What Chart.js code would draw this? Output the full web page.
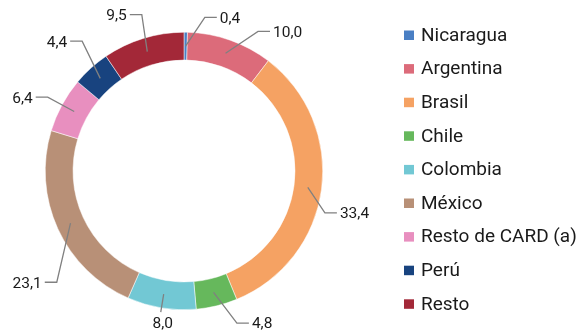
<!DOCTYPE html>
<html>
<head>
<meta charset="utf-8">
<script src="https://cdn.jsdelivr.net/npm/chart.js@4"></script>
<style>
  html, body { margin: 0; padding: 0; background: #fff; }
  #wrap { width: 576px; height: 336px; position: relative; }
</style>
</head>
<body>
<div id="wrap"><canvas id="chart" width="576" height="336"></canvas></div>
<script>
const countries = ['Nicaragua', 'Argentina', 'Brasil', 'Chile', 'Colombia', 'México', 'Resto de CARD (a)', 'Perú', 'Resto'];
const shares = [0.4, 10.0, 33.4, 4.8, 8.0, 23.1, 6.4, 4.4, 9.5];
const colors = ['#4a7fc4', '#dc6b7a', '#f5a263', '#66b85c', '#72c8d4', '#b89077', '#e88fbf', '#18437f', '#a32838'];

// leader line tweaks: [angle shift in degrees, elbow radius]
const leaderNudge = [[7, 155], [8.5, 158], [9, 147], [-5.5, 161], [0, 143], [-16.5, 169], [0, 155], [4, 165], [2, 162]];

const fmt = v => v.toFixed(1).replace('.', ',');

const labelsPlugin = {
  id: 'leaderLabels',
  afterDatasetsDraw(chart) {
    const ctx = chart.ctx;
    const arcs = chart.getDatasetMeta(0).data;
    ctx.save();
    ctx.strokeStyle = '#808080';
    ctx.lineWidth = 1.3;
    ctx.fillStyle = '#1a1a1a';
    ctx.font = '15.5px Roboto';
    arcs.forEach((arc, i) => {
      const p = arc.getProps(['x', 'y', 'startAngle', 'endAngle', 'innerRadius', 'outerRadius']);
      const mid = (p.startAngle + p.endAngle) / 2;
      const rMid = (p.innerRadius + p.outerRadius) / 2;
      const sx = p.x + Math.cos(mid) * rMid;
      const sy = p.y + Math.sin(mid) * rMid;
      const a = mid + leaderNudge[i][0] * Math.PI / 180;
      const ex = p.x + Math.cos(a) * leaderNudge[i][1];
      const ey = p.y + Math.sin(a) * leaderNudge[i][1];
      const txt = fmt(shares[i]);
      ctx.beginPath();
      ctx.moveTo(sx, sy);
      ctx.lineTo(ex, ey);
      if (ey > p.y && Math.abs(ex - p.x) < 30) {
        ctx.stroke();
        ctx.textAlign = 'center';
        ctx.textBaseline = 'top';
        ctx.fillText(txt, ex + 2, ey + 4);
        return;
      }
      const dir = ex >= p.x ? 1 : -1;
      ctx.lineTo(ex + dir * 12, ey);
      ctx.stroke();
      ctx.textAlign = dir > 0 ? 'left' : 'right';
      ctx.textBaseline = 'middle';
      ctx.fillText(txt, ex + dir * 15, ey + 1.5);
    });
    ctx.restore();
  }
};

const legendPlugin = {
  id: 'sideLegend',
  afterDraw(chart) {
    const ctx = chart.ctx;
    const ds = chart.data.datasets[0];
    ctx.save();
    ctx.font = '19px Roboto';
    ctx.textAlign = 'left';
    ctx.textBaseline = 'middle';
    chart.data.labels.forEach((lab, i) => {
      const y = 35 + i * 33.6;
      ctx.fillStyle = ds.backgroundColor[i];
      ctx.fillRect(404, y - 4.5, 10, 9.5);
      ctx.fillStyle = '#1a1a1a';
      ctx.fillText(lab, 421, y + 1);
    });
    ctx.restore();
  }
};

new Chart(document.getElementById('chart'), {
  type: 'doughnut',
  data: {
    labels: countries,
    datasets: [{
      data: shares,
      backgroundColor: colors,
      borderColor: '#ffffff',
      borderWidth: 0.5
    }]
  },
  options: {
    responsive: false,
    animation: false,
    cutout: '80%',
    layout: { padding: { left: 45, right: 253, top: 32, bottom: 26 } },
    plugins: { legend: { display: false }, tooltip: { enabled: false } }
  },
  plugins: [labelsPlugin, legendPlugin]
});
</script>
</body>
</html>
